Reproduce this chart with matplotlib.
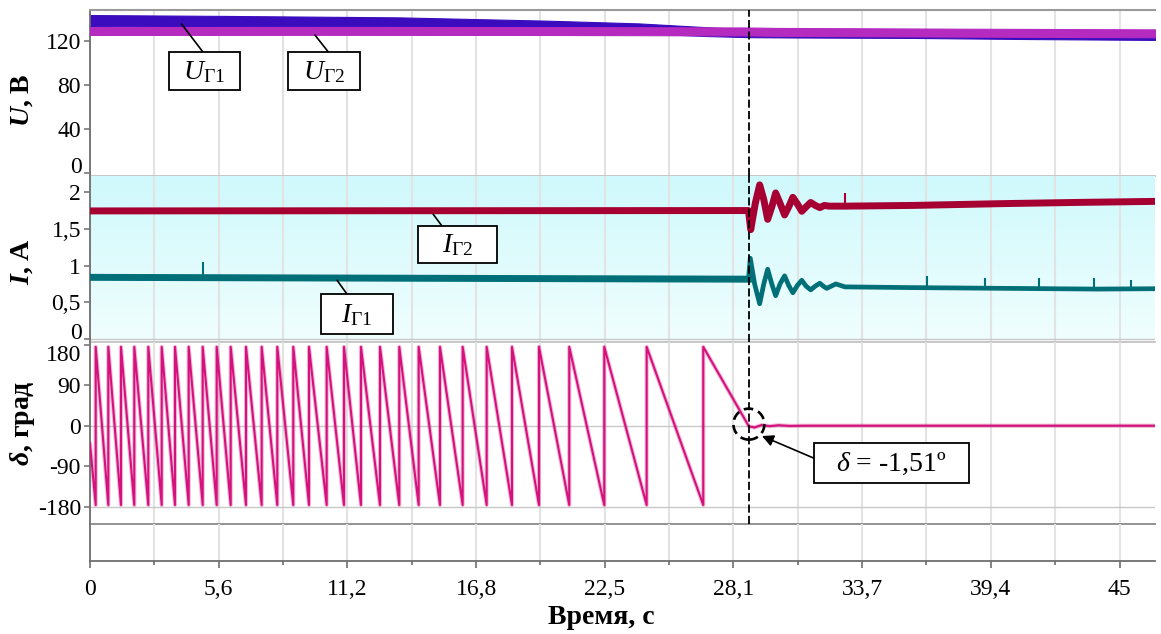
import numpy as np
import matplotlib
matplotlib.use("Agg")
import matplotlib.pyplot as plt
from matplotlib import transforms
from matplotlib.patches import Rectangle, Ellipse, ConnectionPatch
from matplotlib.colors import LinearSegmentedColormap

plt.rcParams['font.family'] = ['Liberation Serif', 'DejaVu Serif']
plt.rcParams['mathtext.fontset'] = 'custom'
plt.rcParams['mathtext.rm'] = 'Liberation Serif'
plt.rcParams['mathtext.it'] = 'Liberation Serif:italic'
plt.rcParams['mathtext.bf'] = 'Liberation Serif:bold'
plt.rcParams['mathtext.bfit'] = 'Liberation Serif:bold:italic'

# ---------------- data ----------------
T_END = 46.55
T_EVENT = 28.8            # moment of synchronisation

x_ticks = [0, 5.625, 11.25, 16.875, 22.5, 28.125, 33.75, 39.375, 45]
x_tick_labels = ['0', '5,6', '11,2', '16,8', '22,5', '28,1', '33,7', '39,4', '45']

# generator voltages (band centre and half-width, V)
u1_t = [0, 6, 13.5, 20, 24, 27, 28.8, 31, 36, 41, 46.55]
u1_mid = [138.6, 137.8, 136.5, 133.5, 131.5, 128.5, 127.0, 126.5, 126.0, 125.0, 124.2]
u1_half = [5.0, 5.0, 5.0, 5.0, 4.5, 4.0, 3.5, 3.3, 3.2, 3.2, 3.2]
u2_t = [0, 10, 20, 28.8, 30, 38, 46.55]
u2_mid = [129.1, 129.2, 129.1, 128.7, 128.3, 127.6, 127.0]
u2_half = [3.6, 3.6, 3.6, 3.6, 3.6, 3.6, 3.6]

# generator currents, A
i2_t = [0, 28.78, 28.88, 29.08, 29.27, 29.45, 29.62, 29.80, 29.97, 30.16, 30.36,
        30.54, 30.72, 30.92, 31.11, 31.30, 31.50, 31.70, 31.90, 32.10, 32.30,
        33.0, 36.0, 40.0, 43.0, 46.55]
i2_val = [1.745, 1.75, 1.49, 1.85, 2.10, 1.90, 1.63, 1.80, 1.99, 1.85, 1.69,
          1.80, 1.93, 1.84, 1.74, 1.80, 1.86, 1.82, 1.79, 1.82, 1.81,
          1.81, 1.82, 1.845, 1.86, 1.875]
i1_t = [0, 28.78, 28.86, 29.05, 29.27, 29.45, 29.62, 29.80, 29.97, 30.16, 30.36,
        30.54, 30.72, 30.92, 31.11, 31.30, 31.50, 31.70, 31.90, 32.05, 32.20,
        32.40, 32.60, 33.0, 36.0, 40.0, 44.0, 46.55]
i1_val = [0.84, 0.815, 1.10, 0.75, 0.48, 0.75, 0.95, 0.75, 0.59, 0.75, 0.86,
          0.73, 0.63, 0.73, 0.80, 0.72, 0.67, 0.72, 0.76, 0.72, 0.69,
          0.72, 0.75, 0.71, 0.70, 0.69, 0.68, 0.685]
i1_spike_t = [4.94, 36.6, 39.1, 41.5, 43.9, 45.5]
i1_spike_top = [1.05, 0.86, 0.83, 0.83, 0.83, 0.80]
i1_spike_base = [0.84, 0.70, 0.69, 0.685, 0.68, 0.685]
i2_spike_t = [33.0]
i2_spike_top = [1.99]
i2_spike_base = [1.81]

# phase angle between generators, deg
delta_start = -40.0
delta_top = 175.0
delta_bottom = -176.0
slip_jump_t = [0.249, 0.80, 1.355, 1.936, 2.548, 3.134, 3.715, 4.314, 4.926,
               5.538, 6.150, 6.818, 7.504, 8.186, 8.885, 9.572, 10.345, 11.101,
               11.844, 12.675, 13.518, 14.366, 15.297, 16.289, 17.338, 18.444,
               19.624, 20.948, 22.478, 24.331, 26.805]
settle_t = [28.8, 29.05, 29.35, 29.7, 30.1, 30.6, 31.2, 46.55]
settle_val = [-1.51, -4.0, 1.5, -1.0, 1.0, -0.5, 0.0, 0.0]
DELTA_SYNC = -1.51

# ---------------- figure ----------------
W, H, DPI = 1161, 634, 100
fig = plt.figure(figsize=(W / DPI, H / DPI), dpi=DPI)

def px_axes(top, bottom, left=90, right=1155):
    return fig.add_axes([left / W, 1 - bottom / H, (right - left) / W, (bottom - top) / H])

ax_u = px_axes(10, 176)
ax_i = px_axes(176, 342)
ax_d = px_axes(342, 524)
ax_e = px_axes(524, 561)
axes = [ax_u, ax_i, ax_d, ax_e]

x_minor = list((np.array(x_ticks[:-1]) + np.array(x_ticks[1:])) / 2)

TICK_C = '#6e6e6e'
FS_TICK = 17
for ax in axes:
    ax.set_xlim(0, T_END)
    ax.set_xticks(x_ticks)
    ax.set_xticks(x_minor, minor=True)
    ax.grid(True, axis='x', which='both', color='#e3e3e3', lw=1.5, zorder=0)
    ax.set_axisbelow(True)
    ax.set_facecolor('none')
    for s in ('top', 'right', 'bottom'):
        ax.spines[s].set_visible(False)
    ax.spines['left'].set_color(TICK_C)
    ax.spines['left'].set_linewidth(1.3)
    ax.tick_params(axis='x', which='both', length=0, labelbottom=False)
    ax.tick_params(axis='y', direction='out', length=4.5, width=1.1, color=TICK_C,
                   labelsize=FS_TICK, pad=2.0)

# panel borders
ax_u.spines['top'].set_visible(True)
ax_u.spines['top'].set_color('#9a9a9a')
ax_u.spines['top'].set_linewidth(1.5)
for ax, c in ((ax_u, '#c2c2c2'), (ax_i, '#c2c2c2'), (ax_d, '#8a8a8a'), (ax_e, TICK_C)):
    ax.spines['bottom'].set_visible(True)
    ax.spines['bottom'].set_color(c)
    ax.spines['bottom'].set_linewidth(1.3)

ax_e.set_yticks([])
ax_e.set_ylim(0, 1)
ax_e.tick_params(axis='x', which='major', length=5, width=1.2, color=TICK_C,
                 labelbottom=True, labelsize=FS_TICK, pad=8)
ax_e.tick_params(axis='x', which='minor', length=3, width=1.2, color=TICK_C)
ax_e.set_xticklabels(x_tick_labels)

# ---- voltages ----
ax_u.set_ylim(-2.73, 148.2)
ax_u.set_yticks([0, 40, 80, 120])
ax_u.set_yticklabels(['', '40', '80', '120'])
C_U1, C_U2 = '#3a0cbe', '#b52abf'
u1_mid_a, u1_half_a = np.array(u1_mid), np.array(u1_half)
u2_mid_a, u2_half_a = np.array(u2_mid), np.array(u2_half)
ax_u.fill_between(u1_t, u1_mid_a - u1_half_a, u1_mid_a + u1_half_a, color=C_U1, lw=0.8, ec=C_U1, zorder=2)
ax_u.fill_between(u2_t, u2_mid_a - u2_half_a, u2_mid_a + u2_half_a, color=C_U2, lw=0.8, ec=C_U2, zorder=3)

# ---- currents ----
I_TOP = 2.2207
ax_i.set_ylim(-0.0409, I_TOP)
ax_i.set_yticks([0, 0.5, 1, 1.5, 2])
ax_i.set_yticklabels(['', '0,5', '1', '1,5', '2'])
grad = np.linspace(0, 1, 256).reshape(-1, 1)
cyan = LinearSegmentedColormap.from_list('cy', ['#f0fefe', '#cff9fc'])
ax_i.imshow(grad, cmap=cyan, origin='lower', aspect='auto',
            extent=[0, T_END, 0, I_TOP], zorder=-1)
ax_i.axhline(0, color='#c8c8c8', lw=1.0, zorder=1)
C_I2, C_I1 = '#a60033', '#006f78'
ax_i.plot(i2_t, i2_val, color=C_I2, lw=5.0, solid_joinstyle='round', zorder=3)
ax_i.vlines(i2_spike_t, i2_spike_base, i2_spike_top, color=C_I2, lw=1.5, zorder=3)
ax_i.plot(i1_t, i1_val, color=C_I1, lw=3.4, solid_joinstyle='round', zorder=3)
ax_i.plot(i1_t[:2], i1_val[:2], color=C_I1, lw=5.0, zorder=3)
ax_i.vlines(i1_spike_t, i1_spike_base, i1_spike_top, color=C_I1, lw=1.5, zorder=3)

# ---- phase angle ----
ax_d.set_ylim(-218.2, 185.8)
ax_d.set_yticks([-180, -90, 0, 90, 180])
ax_d.set_yticklabels(['-180', '-90', '0', '90', ''])
for v in (0, -180):
    ax_d.axhline(v, color='#c8c8c8', lw=1.0, zorder=1)
d_t = [0.0]
d_v = [delta_start]
for tj in slip_jump_t:
    d_t += [tj, tj]
    d_v += [delta_bottom, delta_top]
d_t += settle_t
d_v += settle_val
C_D = '#d4117c'
ax_d.plot(d_t, d_v, color=C_D, lw=3.0, alpha=0.3, zorder=2)
ax_d.plot(d_t, d_v, color=C_D, lw=1.5, zorder=3)

# shifted tick labels that would collide with panel borders
def side_label(ax, y, text, dy_pt):
    ax.annotate(text, xy=(0, y), xycoords=('axes fraction', 'data'),
                xytext=(-6.0, dy_pt), textcoords='offset points',
                ha='right', va='center', fontsize=FS_TICK, annotation_clip=False)

side_label(ax_u, 0, '0', 4.0)
side_label(ax_i, 0, '0', 4.0)
side_label(ax_d, 180, '180', -7.5)

# synchronisation instant
for ax in (ax_u, ax_i, ax_d):
    ax.axvline(T_EVENT, color='black', lw=1.3, dashes=(4.5, 1.8), zorder=5)

def offset_trans(ax, x, y):
    return fig.dpi_scale_trans + transforms.ScaledTranslation(x, y, ax.transData)

circ = Ellipse((0, 0), 0.31, 0.31, transform=offset_trans(ax_d, T_EVENT, 3.5),
               fill=False, ec='black', lw=1.9, linestyle=(0, (3.6, 2.0)), zorder=6,
               clip_on=False)
ax_d.add_artist(circ)

def boxed_label(ax, center, size_px, text, fs, tip, attach, arrow=False):
    tr = offset_trans(ax, center[0], center[1])
    w, h = size_px[0] / DPI, size_px[1] / DPI
    rect = Rectangle((-w / 2, -h / 2), w, h, transform=tr, fc='white', ec='black',
                     lw=1.3, zorder=7, clip_on=False)
    ax.add_artist(rect)
    ax.text(0, -0.01, text, transform=tr, ha='center', va='center', fontsize=fs,
            zorder=8, clip_on=False)
    a = ((attach[0] - 0.5) * w, (attach[1] - 0.5) * h)
    if arrow:
        con = ConnectionPatch(xyA=a, coordsA=tr, xyB=tip, coordsB=ax.transData,
                              arrowstyle='-|>', mutation_scale=17, lw=1.2,
                              color='black', shrinkA=0, shrinkB=0, zorder=7)
    else:
        con = ConnectionPatch(xyA=a, coordsA=tr, xyB=tip, coordsB=ax.transData,
                              lw=1.2, color='black', zorder=6)
    ax.add_artist(con)

FS_BOX = 20
boxed_label(ax_u, (5.0, 92.7), (71, 38), r'$U_{\mathrm{Г1}}$', FS_BOX, (4.0, 135.5), (0.48, 1))
boxed_label(ax_u, (10.23, 92.7), (72, 38), r'$U_{\mathrm{Г2}}$', FS_BOX, (9.83, 125.5), (0.56, 1))
boxed_label(ax_i, (16.06, 1.294), (79, 37), r'$I_{\mathrm{Г2}}$', FS_BOX, (15.0, 1.70), (0.30, 1))
boxed_label(ax_i, (11.67, 0.34), (72, 40), r'$I_{\mathrm{Г1}}$', FS_BOX, (10.8, 0.80), (0.36, 1))
boxed_label(ax_d, (35.03, -82.8), (155, 40),
            r'$\delta$ = ' + f'{DELTA_SYNC:.2f}'.replace('.', ',') + 'º',
            FS_BOX, (29.37, -22.9), (0.0, 0.62), arrow=True)

# axis titles
FS_LAB = 20
fig.text(22.5 / W, 1 - 100 / H, r'$\mathbfit{U}$, В', rotation=90, ha='center', va='center',
         fontsize=FS_LAB, fontweight='bold')
fig.text(22.5 / W, 1 - 262 / H, r'$\mathbfit{I}$, А', rotation=90, ha='center', va='center',
         fontsize=FS_LAB, fontweight='bold')
fig.text(22.5 / W, 1 - 423 / H, r'$\mathbfit{\delta}$, град', rotation=90, ha='center', va='center',
         fontsize=FS_LAB, fontweight='bold')
fig.text(601 / W, 1 - 617 / H, 'Время, с', ha='center', va='center',
         fontsize=FS_LAB, fontweight='bold')

fig.savefig('out.png', dpi=DPI)
